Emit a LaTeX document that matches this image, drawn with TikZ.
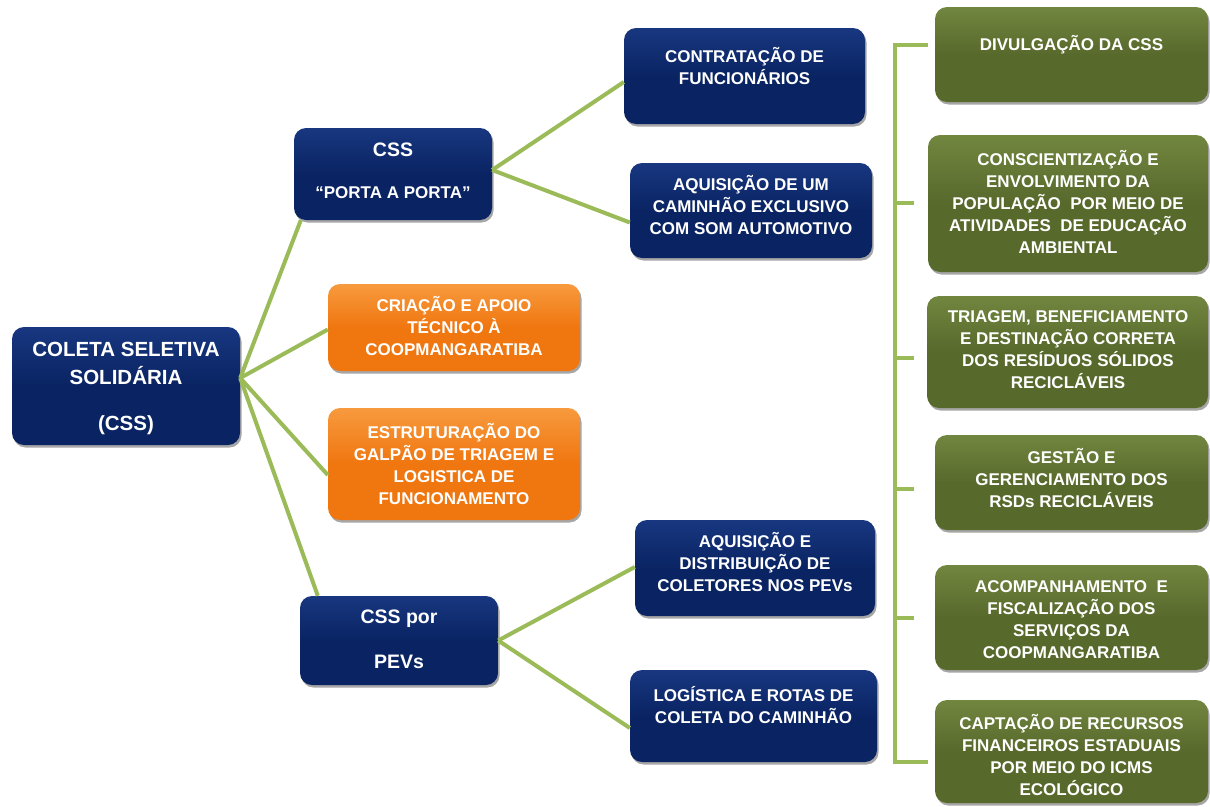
\documentclass[tikz,border=0pt]{standalone}
\usepackage{fontspec}
\setmainfont{Liberation Sans}
\usetikzlibrary{shadows,calc}
\definecolor{navy}{HTML}{0A2463}
\definecolor{navyL}{HTML}{183780}
\definecolor{orng}{HTML}{F0760F}
\definecolor{orngL}{HTML}{F79A3E}
\definecolor{olive}{HTML}{58692C}
\definecolor{oliveL}{HTML}{71863F}
\definecolor{lgreen}{HTML}{9BBB59}
\tikzset{
 box/.style={rounded corners=12pt, inner sep=0pt, draw=none,
   drop shadow={shadow xshift=1.5pt, shadow yshift=-2.5pt, opacity=0.35, fill=black}},
 navybox/.style={box, top color=navyL, bottom color=navy, middle color=navy},
 orngbox/.style={box, top color=orngL, bottom color=orng, middle color=orng},
 olivebox/.style={box, top color=oliveL, bottom color=olive, middle color=olive},
 txt/.style={text=white, font=\bfseries\fontsize{17}{22}\selectfont, align=center, inner sep=0pt},
 link/.style={draw=lgreen, line width=4pt},
}
\begin{document}
\begin{tikzpicture}[x=1pt,y=-1pt]
\useasboundingbox (0,0) rectangle (1210,806);
% boxes
\node[navybox, minimum width=228pt, minimum height=118pt] (root) at (126,386) {};
\node[navybox, minimum width=198pt, minimum height=92pt] (porta) at (393,174) {};
\node[orngbox, minimum width=252pt, minimum height=87pt] (or1) at (454,327.5) {};
\node[orngbox, minimum width=252pt, minimum height=112pt] (or2) at (454,464) {};
\node[navybox, minimum width=198pt, minimum height=89pt] (pevs) at (399,640.5) {};
\node[navybox, minimum width=241pt, minimum height=96pt] (contr) at (744.5,76) {};
\node[navybox, minimum width=242pt, minimum height=95pt] (cam) at (751,210.5) {};
\node[navybox, minimum width=240pt, minimum height=96pt] (adist) at (755,568) {};
\node[navybox, minimum width=247pt, minimum height=92pt] (logi) at (753.5,716) {};
\node[olivebox, minimum width=273pt, minimum height=95pt] (g1) at (1071.5,54.5) {};
\node[olivebox, minimum width=280pt, minimum height=137pt] (g2) at (1068,203.5) {};
\node[olivebox, minimum width=281pt, minimum height=112pt] (g3) at (1067.5,352) {};
\node[olivebox, minimum width=273pt, minimum height=95pt] (g4) at (1071.5,482.5) {};
\node[olivebox, minimum width=273pt, minimum height=105pt] (g5) at (1071.5,617.5) {};
\node[olivebox, minimum width=273pt, minimum height=103pt] (g6) at (1071.5,751.5) {};
% texts
\node[txt, font=\bfseries\fontsize{20.5}{28}\selectfont] (root-t) at (126,388) {COLETA SELETIVA\\SOLIDÁRIA\\[18pt](CSS)};
\node[txt] (porta-t) at (393,171) {{\fontsize{19.5}{22}\selectfont CSS}\\[20pt]“PORTA A PORTA”};
\node[txt] (or1-t) at (454,326) {CRIAÇÃO E APOIO\\TÉCNICO À\\COOPMANGARATIBA};
\node[txt] (or2-t) at (454,464) {ESTRUTURAÇÃO DO\\GALPÃO DE TRIAGEM E\\LOGISTICA DE\\FUNCIONAMENTO};
\node[txt, font=\bfseries\fontsize{19.5}{22}\selectfont] (pevs-t) at (399,639.5) {CSS por\\[23pt]PEVs};
\node[txt] (contr-t) at (744.5,66.5) {CONTRATAÇÃO DE\\FUNCIONÁRIOS};
\node[txt] (cam-t) at (751,205) {AQUISIÇÃO DE UM\\CAMINHÃO EXCLUSIVO\\COM SOM AUTOMOTIVO};
\node[txt] (adist-t) at (755,562) {AQUISIÇÃO E\\DISTRIBUIÇÃO DE\\COLETORES NOS PEVs};
\node[txt] (logi-t) at (753.5,705) {LOGÍSTICA E ROTAS DE\\COLETA DO CAMINHÃO};
\node[txt] (g1-t) at (1071.5,45) {DIVULGAÇÃO DA CSS};
\node[txt] (g2-t) at (1068,202) {CONSCIENTIZAÇÃO E\\ENVOLVIMENTO DA\\POPULAÇÃO \ POR MEIO DE\\ATIVIDADES \ DE EDUCAÇÃO\\AMBIENTAL};
\node[txt] (g3-t) at (1068,350) {TRIAGEM, BENEFICIAMENTO\\E DESTINAÇÃO CORRETA\\DOS RESÍDUOS SÓLIDOS\\RECICLÁVEIS};
\node[txt] (g4-t) at (1071.5,478) {GESTÃO E\\GERENCIAMENTO DOS\\RSDs RECICLÁVEIS};
\node[txt] (g5-t) at (1071.5,620) {ACOMPANHAMENTO \ E\\FISCALIZAÇÃO DOS\\SERVIÇOS DA\\COOPMANGARATIBA};
\node[txt] (g6-t) at (1071.5,755) {CAPTAÇÃO DE RECURSOS\\FINANCEIROS ESTADUAIS\\POR MEIO DO ICMS\\ECOLÓGICO};
% connectors
\coordinate (rootout) at ($(root.east)+(0,-8)$);
\draw[link] (rootout) -- ($(porta.south west)+(7,0)$);
\draw[link] (rootout) -- ($(or1.west)+(0,2)$);
\draw[link] (rootout) -- ($(or2.west)+(0,11)$);
\draw[link] (rootout) -- ($(pevs.north west)+(18,0)$);
\coordinate (portaout) at ($(porta.east)+(0,-4)$);
\draw[link] (portaout) -- ($(contr.west)+(0,6)$);
\draw[link] (portaout) -- ($(cam.west)+(0,12)$);
\coordinate (pevsout) at (pevs.east);
\draw[link] (pevsout) -- ($(adist.west)+(0,-1)$);
\draw[link] (pevsout) -- ($(logi.west)+(0,12)$);
% bracket
\coordinate (brtop) at (895,45);
\coordinate (brbot) at (895,762);
\draw[link] ($(g1.west)+(-7,-9.5)$) -- (brtop) -- (brbot) -- ($(g6.west)+(-7,10.5)$);
\foreach \y/\n in {203/g2,358/g3,489/g4,618/g5}
  \draw[link] (895,\y) -- (914,\y);
\end{tikzpicture}
\end{document}
